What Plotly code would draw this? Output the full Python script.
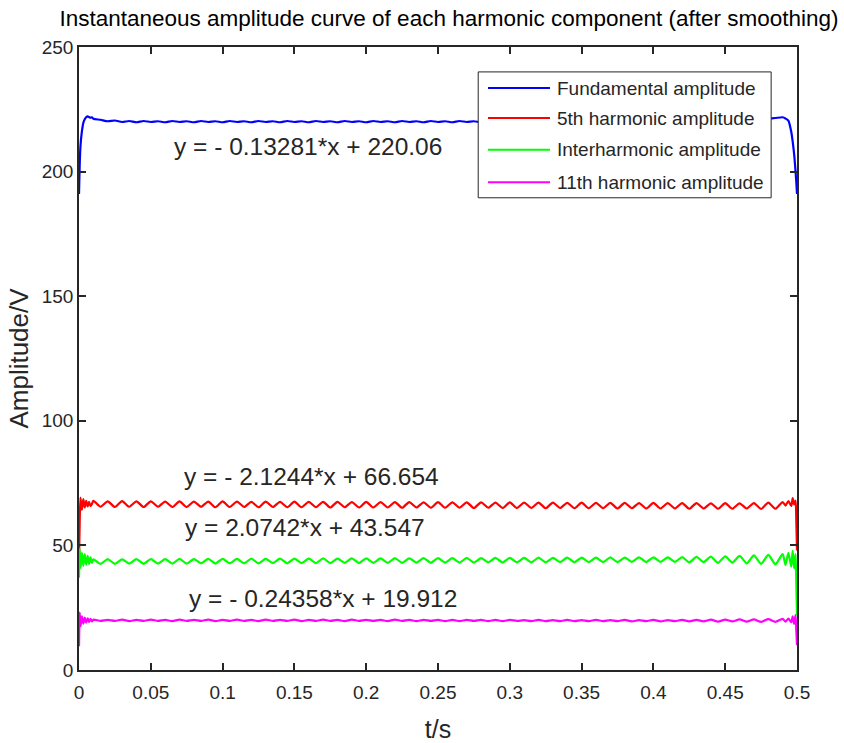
import plotly.graph_objects as go

# ---------------- data ----------------
t_start = [0, 0.0005, 0.001, 0.002, 0.003, 0.004, 0.005, 0.006, 0.007, 0.008, 0.009]
t_mid = [0.010, 0.015, 0.020, 0.025, 0.030, 0.035, 0.040, 0.045, 0.050, 0.055,
         0.060, 0.065, 0.070, 0.075, 0.080, 0.085, 0.090, 0.095, 0.100, 0.105,
         0.110, 0.115, 0.120, 0.125, 0.130, 0.135, 0.140, 0.145, 0.150, 0.155,
         0.160, 0.165, 0.170, 0.175, 0.180, 0.185, 0.190, 0.195, 0.200, 0.205,
         0.210, 0.215, 0.220, 0.225, 0.230, 0.235, 0.240, 0.245, 0.250, 0.255,
         0.260, 0.265, 0.270, 0.275, 0.280, 0.285, 0.290, 0.295, 0.300, 0.305,
         0.310, 0.315, 0.320, 0.325, 0.330, 0.335, 0.340, 0.345, 0.350, 0.355,
         0.360, 0.365, 0.370, 0.375, 0.380, 0.385, 0.390, 0.395, 0.400, 0.405,
         0.410, 0.415, 0.420, 0.425, 0.430, 0.435, 0.440, 0.445, 0.450, 0.455,
         0.460, 0.465, 0.470, 0.475, 0.480, 0.485, 0.490]
t_end = [0.492, 0.494, 0.496, 0.497, 0.498, 0.499, 0.4995, 0.5]
time_s = t_start + t_mid + t_end

fundamental = (
    [191.0, 203.0, 210.0, 216.0, 219.5, 221.0, 221.8, 222.2, 221.9, 221.6, 221.8]
    + [221.2, 220.8, 220.2, 220.5, 219.9, 220.3, 219.8, 220.3, 219.9, 220.2,
       219.8, 220.3, 219.9, 220.2, 219.8, 220.3, 219.9, 220.2, 219.8, 220.3,
       219.9, 220.2, 219.8, 220.3, 219.9, 220.2, 219.8, 220.3, 219.9, 220.2,
       219.8, 220.3, 219.9, 220.2, 219.8, 220.3, 219.9, 220.2, 219.8, 220.3,
       219.9, 220.2, 219.8, 220.3, 219.9, 220.2, 219.8, 220.3, 219.9, 220.2,
       219.8, 220.3, 219.9, 220.2, 219.8, 220.3, 219.9, 220.2, 219.8, 220.3,
       219.9, 220.2, 219.8, 220.3, 219.9, 220.2, 219.8, 220.3, 219.9, 220.2,
       219.8, 220.3, 219.9, 220.2, 219.8, 220.3, 219.9, 220.2, 219.8, 220.3,
       219.8, 220.3, 219.9, 220.2, 219.8, 220.3, 219.9, 220.2, 220.0, 220.4,
       220.3, 220.7, 220.6, 221.0, 221.2, 221.5, 221.8]
    + [221.3, 220.5, 216.0, 212.0, 207.0, 200.0, 196.0, 191.0]
)

fifth = (
    [44.0, 60.0, 69.2, 64.2, 68.6, 65.2, 67.9, 65.6, 67.5, 65.8, 66.6]
    + [67.9, 65.5, 67.7, 65.4, 67.8, 65.5, 67.7, 65.4, 67.7, 65.5,
       67.6, 65.4, 67.7, 65.4, 67.6, 65.5, 67.6, 65.3, 67.7, 65.4,
       67.6, 65.4, 67.5, 65.3, 67.6, 65.4, 67.5, 65.3, 67.6, 65.3,
       67.5, 65.3, 67.5, 65.2, 67.5, 65.3, 67.4, 65.2, 67.5, 65.2,
       67.4, 65.2, 67.4, 65.1, 67.4, 65.2, 67.3, 65.1, 67.4, 65.1,
       67.3, 65.1, 67.3, 65.0, 67.3, 65.1, 67.2, 65.0, 67.3, 65.0,
       67.2, 65.0, 67.2, 64.9, 67.2, 65.0, 67.1, 64.9, 67.2, 64.9,
       67.1, 64.9, 67.1, 64.8, 67.1, 64.9, 67.0, 64.8, 67.1, 64.8,
       67.0, 64.8, 67.0, 64.7, 67.0, 64.8, 66.9, 64.7, 67.0, 64.7,
       66.9, 64.8, 67.0, 64.6, 67.2, 64.7, 67.4]
    + [66.0, 67.8, 65.8, 69.0, 66.5, 68.0, 60.0, 48.0]
)

interharmonic = (
    [37.0, 48.5, 41.0, 47.0, 41.8, 46.5, 42.2, 45.8, 42.6, 45.2, 43.0]
    + [44.4, 42.6, 44.5, 42.6, 44.4, 42.7, 44.5, 42.6, 44.5, 42.7,
       44.5, 42.7, 44.6, 42.7, 44.5, 42.8, 44.6, 42.7, 44.6, 42.8,
       44.6, 42.8, 44.7, 42.8, 44.6, 42.9, 44.7, 42.8, 44.7, 42.9,
       44.7, 42.9, 44.8, 42.9, 44.7, 43.0, 44.8, 42.9, 44.8, 43.0,
       44.8, 43.0, 44.9, 43.0, 44.8, 43.1, 44.9, 43.0, 44.9, 43.1,
       44.9, 43.1, 45.0, 43.1, 44.9, 43.2, 45.0, 43.1, 45.0, 43.2,
       45.0, 43.2, 45.1, 43.2, 45.0, 43.3, 45.1, 43.2, 45.1, 43.3,
       45.1, 43.3, 45.2, 43.3, 45.1, 43.4, 45.2, 43.3, 45.2, 43.4,
       45.2, 43.4, 45.3, 43.2, 45.4, 43.3, 45.5, 43.0, 45.6, 43.1,
       45.8, 42.8, 46.0, 42.6, 46.2, 42.4, 46.5]
    + [42.2, 47.0, 41.5, 47.8, 40.8, 46.5, 35.0, 22.0]
)

eleventh = (
    [9.5, 23.0, 17.5, 21.5, 18.6, 21.0, 19.0, 20.7, 19.3, 20.5, 19.5]
    + [20.2, 19.7, 20.1, 19.7, 20.2, 19.6, 20.1, 19.7, 20.2, 19.7,
       20.1, 19.6, 20.2, 19.7, 20.1, 19.7, 20.2, 19.6, 20.1, 19.7,
       20.2, 19.7, 20.1, 19.6, 20.2, 19.7, 20.1, 19.7, 20.2, 19.6,
       20.1, 19.7, 20.2, 19.7, 20.1, 19.6, 20.2, 19.7, 20.1, 19.7,
       20.1, 19.6, 20.2, 19.7, 20.1, 19.6, 20.1, 19.7, 20.1, 19.6,
       20.1, 19.6, 20.1, 19.7, 20.1, 19.6, 20.1, 19.6, 20.1, 19.7,
       20.0, 19.6, 20.1, 19.6, 20.0, 19.6, 20.1, 19.6, 20.0, 19.6,
       20.1, 19.6, 20.0, 19.6, 20.1, 19.5, 20.0, 19.6, 20.1, 19.5,
       20.0, 19.6, 20.1, 19.5, 20.1, 19.5, 20.2, 19.4, 20.2, 19.5,
       20.3, 19.4, 20.3, 19.3, 20.4, 19.3, 20.5]
    + [19.4, 20.6, 19.2, 21.5, 18.5, 22.0, 16.0, 10.0]
)

series_names = ["Fundamental amplitude", "5th harmonic amplitude",
                "Interharmonic amplitude", "11th harmonic amplitude"]
series_values = [fundamental, fifth, interharmonic, eleventh]
series_colors = ["#0000FF", "#FF0000", "#00FF00", "#FF00FF"]

fit_labels = ["y = - 0.13281*x + 220.06", "y = - 2.1244*x + 66.654",
              "y = 2.0742*x + 43.547", "y = - 0.24358*x + 19.912"]

x_ticks = [0, 0.05, 0.1, 0.15, 0.2, 0.25, 0.3, 0.35, 0.4, 0.45, 0.5]
x_ticktext = ["0", "0.05", "0.1", "0.15", "0.2", "0.25", "0.3", "0.35", "0.4", "0.45", "0.5"]
y_ticks = [0, 50, 100, 150, 200, 250]

# ---------------- figure ----------------
FONT = "Liberation Sans, Arial, sans-serif"
INK = "#262626"

fig = go.Figure()
for name, vals, col in zip(series_names, series_values, series_colors):
    fig.add_trace(go.Scatter(x=time_s, y=vals, mode="lines", name=name,
                             line=dict(color=col, width=2.2, shape="spline", smoothing=0.6),
                             showlegend=False))

# fit-equation annotations
ann_pos = [(0.0648, 209.9), (0.0717, 77.8), (0.0724, 57.0), (0.0752, 28.5)]
for txt, (ax, ay) in zip(fit_labels, ann_pos):
    fig.add_annotation(x=ax, y=ay, xref="x", yref="y", text=txt, showarrow=False,
                       xanchor="left", yanchor="middle",
                       font=dict(family=FONT, size=24.5, color=INK))

# custom legend box
fig.add_shape(type="rect", xref="paper", yref="paper", x0=0.556, x1=0.964, y0=0.758, y1=0.96,
              line=dict(color=INK, width=1), fillcolor="white", layer="above")
leg_y = [0.934, 0.886, 0.835, 0.783]
for name, col, ly in zip(series_names, series_colors, leg_y):
    fig.add_shape(type="line", xref="paper", yref="paper", x0=0.5696, x1=0.656, y0=ly, y1=ly,
                  line=dict(color=col, width=2), layer="above")
    fig.add_annotation(x=0.663, y=ly, xref="paper", yref="paper", text=name, showarrow=False,
                       xanchor="left", yanchor="middle",
                       font=dict(family=FONT, size=19, color=INK))

axis_common = dict(showline=True, linecolor=INK, linewidth=1.5, mirror="ticks",
                   ticks="inside", ticklen=7, tickwidth=1.5, tickcolor=INK,
                   showgrid=False, zeroline=False, automargin=False,
                   tickfont=dict(family=FONT, size=19, color=INK))

fig.update_layout(
    width=844, height=743,
    margin=dict(l=79, r=47, t=47, b=73),
    paper_bgcolor="white", plot_bgcolor="white",
    title=dict(text="Instantaneous amplitude curve of each harmonic component (after smoothing)",
               x=449 / 844, xanchor="center", y=1 - 18 / 743, yanchor="middle",
               font=dict(family=FONT, size=22.5, color="#000000")),
    xaxis=dict(range=[0, 0.5], tickvals=x_ticks, ticktext=x_ticktext, ticklabelstandoff=4,
               title=dict(text="t/s", font=dict(family=FONT, size=25, color=INK), standoff=22),
               **axis_common),
    yaxis=dict(range=[0, 250], tickvals=y_ticks,
               title=dict(text="Amplitude/V", font=dict(family=FONT, size=26, color=INK), standoff=6),
               **axis_common),
)

fig.write_html("out.html")
